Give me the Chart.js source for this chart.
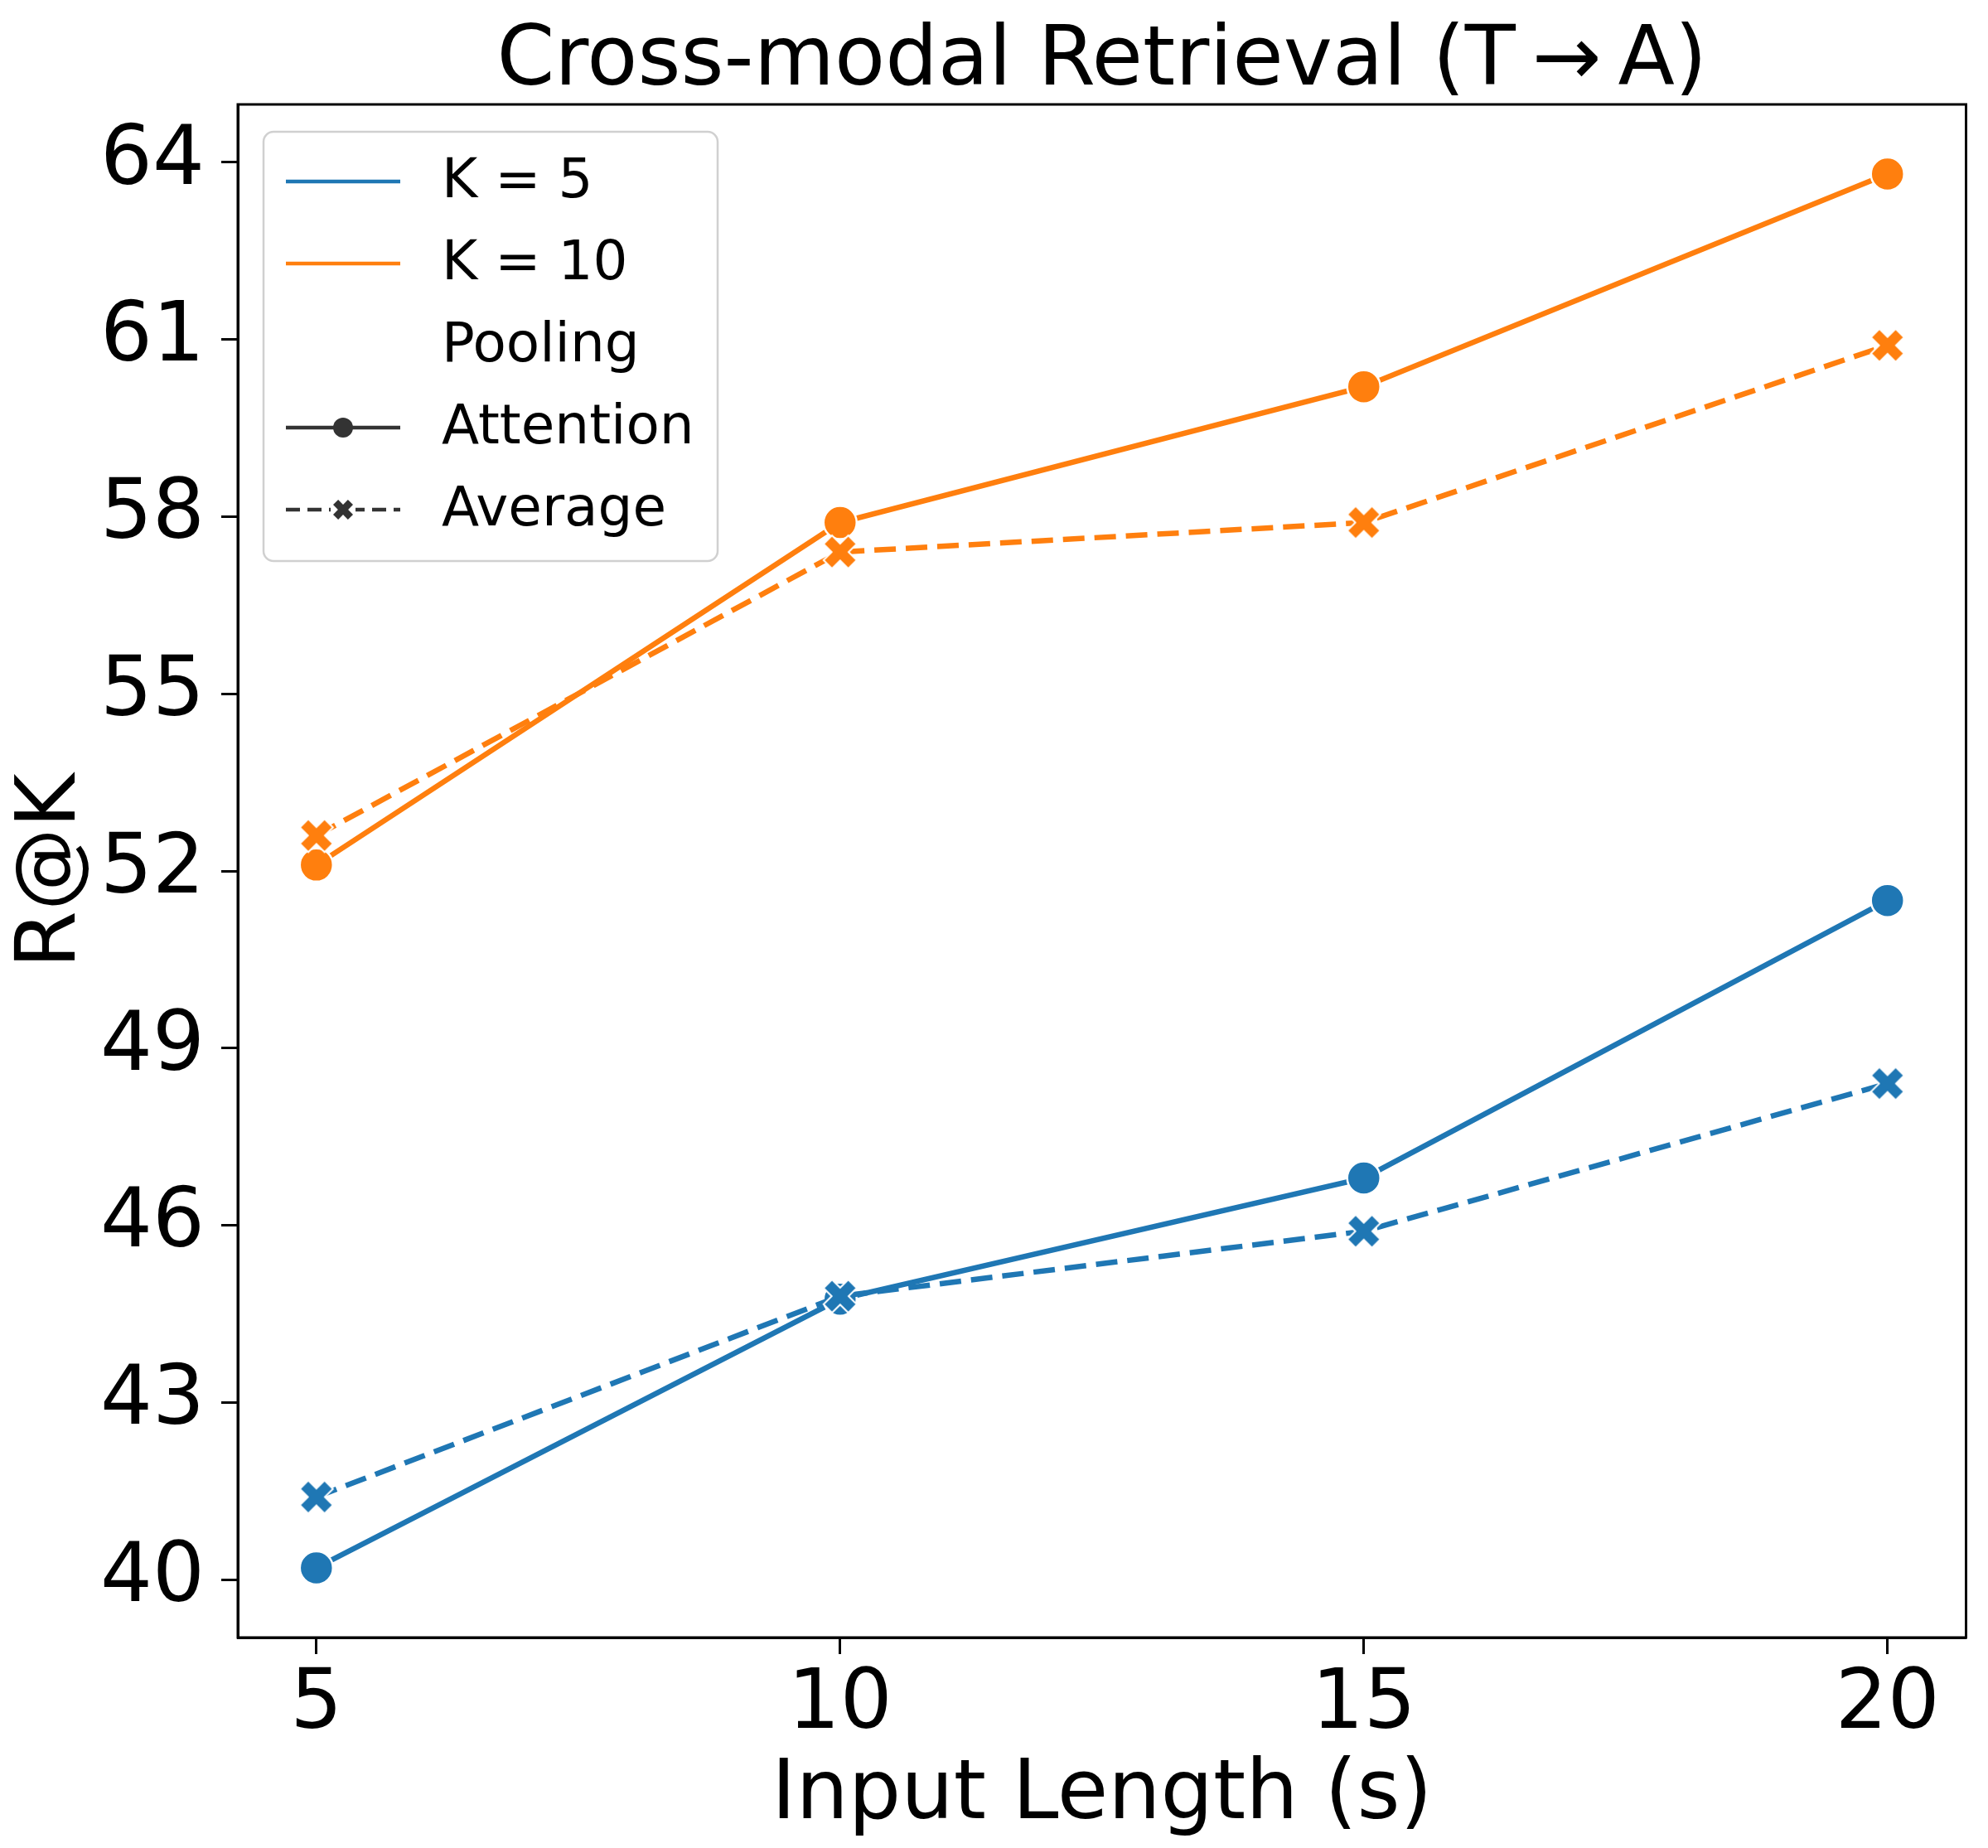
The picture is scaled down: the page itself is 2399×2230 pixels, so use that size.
<!DOCTYPE html>
<html>
<head>
<meta charset="utf-8">
<script src="https://cdn.jsdelivr.net/npm/chart.js@4"></script>
<style>
  html, body { margin: 0; padding: 0; background: #fff; }
</style>
</head>
<body>
<canvas id="myChart" width="2399" height="2230"></canvas>
<script>
// data
const inputLength = [5, 10, 15, 20];
const k5Attention = [40.2, 44.75, 46.8, 51.5];
const k5Average = [41.4, 44.8, 45.9, 48.4];
const k10Attention = [52.1, 57.9, 60.2, 63.8];
const k10Average = [52.6, 57.4, 57.9, 60.9];
const xTicks = [5, 10, 15, 20];
const yTicks = [40, 43, 46, 49, 52, 55, 58, 61, 64];

const blue = '#1f77b4';
const orange = '#ff7f0e';
const gray = '#333333';
const font = "'DejaVu Sans'";
const titleText = 'Cross-modal Retrieval (T\u2009\u2192\u2009A)';

// filled X marker with white edge, like matplotlib 'X'
function makeX(color, half, lw) {
  const c = document.createElement('canvas');
  const s = Math.ceil(half * 2 + 8);
  c.width = s; c.height = s;
  const g = c.getContext('2d');
  const a = half * 0.36, b = half * Math.SQRT2 - a;
  const pts = [[-a,b],[a,b],[a,a],[b,a],[b,-a],[a,-a],[a,-b],[-a,-b],[-a,-a],[-b,-a],[-b,a],[-a,a]];
  g.translate(s / 2, s / 2);
  g.rotate(Math.PI / 4);
  g.beginPath();
  pts.forEach((p, i) => i ? g.lineTo(p[0], p[1]) : g.moveTo(p[0], p[1]));
  g.closePath();
  g.fillStyle = color;
  g.fill();
  if (lw) {
    g.lineWidth = lw;
    g.strokeStyle = '#ffffff';
    g.stroke();
  }
  return c;
}

const xBlue = makeX(blue, 20, 2);
const xOrange = makeX(orange, 20, 2);
const xGray = makeX(gray, 12, 0);

function pts(ys) {
  return inputLength.map((x, i) => ({x: x, y: ys[i]}));
}

function attention(ys, color) {
  return {
    data: pts(ys), borderColor: color, backgroundColor: color, order: 1,
    borderWidth: 6.5, pointStyle: 'circle', pointRadius: 20,
    pointBorderColor: '#ffffff', pointBorderWidth: 2.5, tension: 0
  };
}
function average(ys, color, img) {
  return {
    data: pts(ys), borderColor: color, backgroundColor: color, order: 0,
    borderWidth: 6.5, borderDash: [26, 12], pointStyle: img, pointRadius: 20, tension: 0
  };
}

// title over the plot area, frame, and legend inside the axes
const frameAndLegend = {
  id: 'frameAndLegend',
  afterDraw(chart) {
    const ctx = chart.ctx;
    const a = chart.chartArea;
    ctx.save();
    ctx.fillStyle = '#000';
    ctx.font = '100px ' + font;
    ctx.textAlign = 'center';
    ctx.textBaseline = 'middle';
    ctx.fillText(titleText, (a.left + a.right) / 2, 76);

    ctx.strokeStyle = '#000';
    ctx.lineWidth = 3;
    ctx.strokeRect(a.left, a.top, a.right - a.left, a.bottom - a.top);

    const bx = 318, by = 159, bw = 548, bh = 518;
    ctx.beginPath();
    ctx.roundRect(bx, by, bw, bh, 12);
    ctx.fillStyle = 'rgba(255,255,255,0.8)';
    ctx.fill();
    ctx.strokeStyle = '#d0d0d0';
    ctx.lineWidth = 2.5;
    ctx.stroke();

    const rows = [
      {label: 'K = 5', color: blue, kind: 'line'},
      {label: 'K = 10', color: orange, kind: 'line'},
      {label: 'Pooling', kind: 'none'},
      {label: 'Attention', color: gray, kind: 'circle'},
      {label: 'Average', color: gray, kind: 'x'}
    ];
    const x0 = 345, x1 = 483, tx = 533;
    ctx.font = '66px ' + font;
    ctx.textAlign = 'left';
    rows.forEach((r, i) => {
      const y = 219 + i * 99;
      if (r.kind !== 'none') {
        ctx.beginPath();
        ctx.strokeStyle = r.color;
        ctx.lineWidth = 4.5;
        ctx.setLineDash(r.kind === 'x' ? [17, 9] : []);
        ctx.moveTo(x0, y);
        ctx.lineTo(x1, y);
        ctx.stroke();
        ctx.setLineDash([]);
      }
      if (r.kind === 'circle') {
        ctx.beginPath();
        ctx.arc((x0 + x1) / 2, y, 12, 0, Math.PI * 2);
        ctx.fillStyle = r.color;
        ctx.fill();
      }
      if (r.kind === 'x') {
        ctx.fillStyle = '#fff';
        ctx.fillRect((x0 + x1) / 2 - 15, y - 5, 30, 10);
        ctx.drawImage(xGray, (x0 + x1) / 2 - xGray.width / 2, y - xGray.height / 2);
      }
      ctx.fillStyle = '#000';
      ctx.fillText(r.label, tx, y + 2);
    });
    ctx.restore();
  }
};

const ctx = document.getElementById('myChart');
const myChart = new Chart(ctx, {
  type: 'line',
  data: {
    datasets: [
      attention(k5Attention, blue),
      average(k5Average, blue, xBlue),
      attention(k10Attention, orange),
      average(k10Average, orange, xOrange)
    ]
  },
  options: {
    responsive: false,
    devicePixelRatio: 1,
    animation: false,
    layout: {padding: {left: 0, right: 26, top: 126, bottom: 0}},
    plugins: {
      legend: {display: false},
      tooltip: {enabled: false},
      title: {display: false}
    },
    scales: {
      x: {
        type: 'linear',
        min: 4.25,
        max: 20.75,
        afterBuildTicks: s => { s.ticks = xTicks.map(v => ({value: v})); },
        afterFit: s => { s.height = 254; s.paddingLeft = 0; s.paddingRight = 0; },
        grid: {drawOnChartArea: false, drawTicks: true, tickLength: 20, tickColor: '#000', tickWidth: 3},
        border: {display: true, color: '#000', width: 3},
        ticks: {color: '#000', font: {family: font, size: 99}, padding: 4, maxRotation: 0},
        title: {display: true, text: 'Input Length (s)', color: '#000',
          font: {family: font, size: 100}, padding: {top: 0, bottom: 2}}
      },
      y: {
        type: 'linear',
        min: 39.02,
        max: 64.98,
        afterBuildTicks: s => { s.ticks = yTicks.map(v => ({value: v})); },
        afterFit: s => { s.width = 287; },
        grid: {drawOnChartArea: false, drawTicks: true, tickLength: 20, tickColor: '#000', tickWidth: 3},
        border: {display: true, color: '#000', width: 3},
        ticks: {color: '#000', font: {family: font, size: 99}, padding: 20},
        title: {display: true, text: 'R@K', color: '#000',
          font: {family: font, size: 100}, padding: {top: 4, bottom: 0}}
      }
    }
  },
  plugins: [frameAndLegend]
});
</script>
</body>
</html>
